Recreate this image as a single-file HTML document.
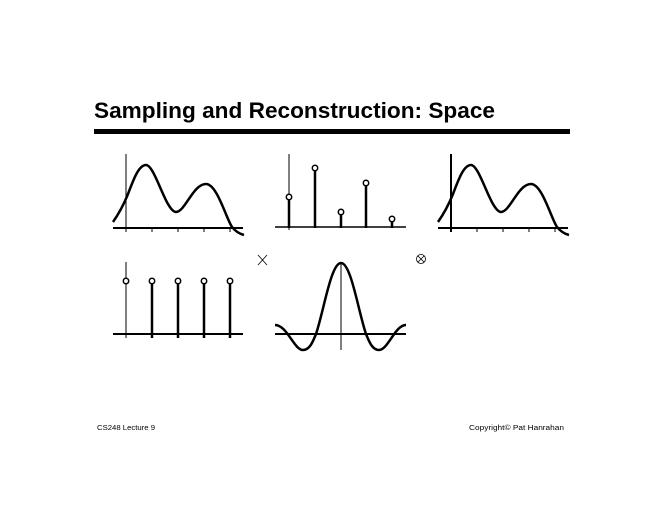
<!DOCTYPE html>
<html><head><style>body{margin:0;background:#fff}svg{display:block}</style></head>
<body>
<svg width="660" height="510" viewBox="0 0 660 510" xmlns="http://www.w3.org/2000/svg">
<text x="94" y="118" font-family="Liberation Sans, sans-serif" font-weight="bold" font-size="22" textLength="401" lengthAdjust="spacingAndGlyphs">Sampling and Reconstruction: Space</text>
<rect x="94" y="129" width="476" height="5" fill="#000"/>
<g fill="none" stroke="#000">
<!-- panel 1 -->
<line x1="126" y1="154" x2="126" y2="232" stroke-width="1"/>
<line x1="113" y1="228" x2="243" y2="228" stroke-width="2"/>
<g stroke-width="1"><line x1="152" y1="228" x2="152" y2="232"/><line x1="178" y1="228" x2="178" y2="232"/><line x1="204" y1="228" x2="204" y2="232"/><line x1="230" y1="228" x2="230" y2="232"/></g>
<path id="c" d="M113,222 C120,212 124,204 128,194 C134,178 139,165 146,165 C155,165 166,212 176,212 C185,212 193,184 206,184 C217,184 226,218 232,227 C236,232 240,234 244,235" stroke-width="2.5"/>
<!-- panel 3 -->
<g transform="translate(325,0)">
<line x1="126" y1="154" x2="126" y2="232" stroke-width="2"/>
<line x1="113" y1="228" x2="243" y2="228" stroke-width="2"/>
<g stroke-width="1"><line x1="152" y1="228" x2="152" y2="232"/><line x1="178" y1="228" x2="178" y2="232"/><line x1="204" y1="228" x2="204" y2="232"/><line x1="230" y1="228" x2="230" y2="232"/></g>
<path d="M113,222 C120,212 124,204 128,194 C134,178 139,165 146,165 C155,165 166,212 176,212 C185,212 193,184 206,184 C217,184 226,218 232,227 C236,232 240,234 244,235" stroke-width="2.5"/>
</g>
<!-- panel 2 -->
<line x1="289" y1="154" x2="289" y2="230" stroke-width="1"/>
<line x1="275" y1="227" x2="406" y2="227" stroke-width="1.5"/>
<g stroke-width="2.5"><line x1="289" y1="200" x2="289" y2="228"/><line x1="315" y1="171" x2="315" y2="228"/><line x1="341" y1="215" x2="341" y2="228"/><line x1="366" y1="186" x2="366" y2="228"/><line x1="392" y1="222" x2="392" y2="228"/></g>
<g stroke-width="1.5" fill="#fff"><circle cx="289" cy="197" r="2.7"/><circle cx="315" cy="168" r="2.7"/><circle cx="341" cy="212" r="2.7"/><circle cx="366" cy="183" r="2.7"/><circle cx="392" cy="219" r="2.7"/></g>
<!-- panel 4 -->
<line x1="126" y1="262" x2="126" y2="338" stroke-width="1"/>
<line x1="113" y1="334" x2="243" y2="334" stroke-width="2"/>
<g stroke-width="2.5"><line x1="152" y1="284" x2="152" y2="338"/><line x1="178" y1="284" x2="178" y2="338"/><line x1="204" y1="284" x2="204" y2="338"/><line x1="230" y1="284" x2="230" y2="338"/></g>
<g stroke-width="1.5" fill="#fff"><circle cx="126" cy="281" r="2.7"/><circle cx="152" cy="281" r="2.7"/><circle cx="178" cy="281" r="2.7"/><circle cx="204" cy="281" r="2.7"/><circle cx="230" cy="281" r="2.7"/></g>
<!-- panel 5 -->
<line x1="341" y1="263" x2="341" y2="350" stroke-width="1"/>
<line x1="275" y1="334" x2="406" y2="334" stroke-width="2"/>
<path d="M275,325 C287,325 294,350 303,350 C310,350 313,341 316,334 C324,310 331,263 341,263 C351,263 358,310 366,334 C369,341 372,350 379,350 C388,350 395,325 406,325" stroke-width="2.5"/>
<!-- operators -->
<g stroke-width="0.8"><line x1="258" y1="255" x2="267" y2="265"/><line x1="267" y1="255" x2="258" y2="265"/></g>
<g stroke-width="0.8"><circle cx="421" cy="259" r="4.5"/><line x1="418" y1="256" x2="424" y2="262"/><line x1="424" y1="256" x2="418" y2="262"/></g>
</g>
<text x="97" y="430" font-family="Liberation Sans, sans-serif" font-size="7" textLength="58" lengthAdjust="spacingAndGlyphs">CS248 Lecture 9</text>
<text x="469" y="430" font-family="Liberation Sans, sans-serif" font-size="7" textLength="95" lengthAdjust="spacingAndGlyphs">Copyright© Pat Hanrahan</text>
</svg>
</body></html>
